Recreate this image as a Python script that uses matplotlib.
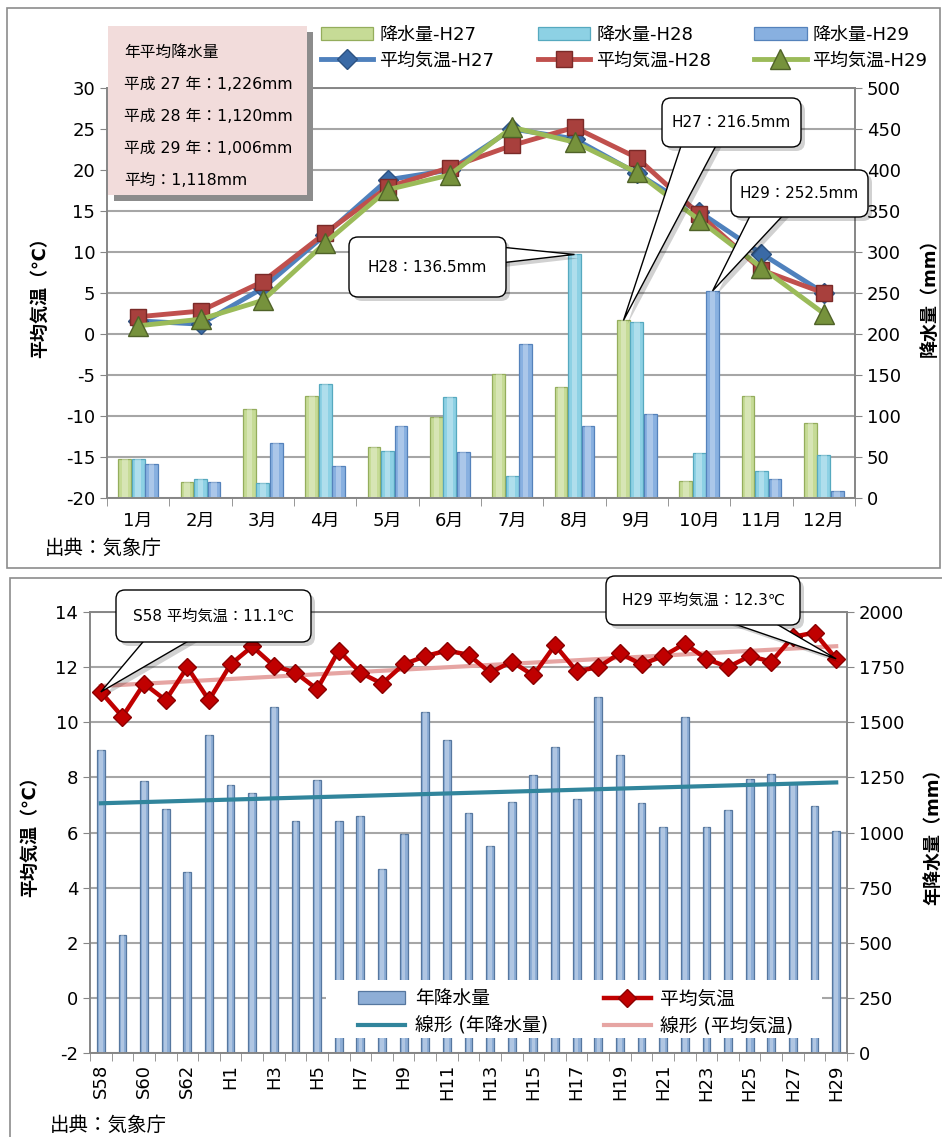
import matplotlib
matplotlib.use("Agg")
import matplotlib.pyplot as plt
import numpy as np
from matplotlib.patches import Rectangle, Polygon, FancyBboxPatch
from matplotlib.transforms import IdentityTransform

plt.rcParams['font.family'] = ['DejaVu Sans', 'Noto Sans CJK JP']
plt.rcParams['axes.unicode_minus'] = False

# ---------------- data: top chart ----------------
months = ['1月', '2月', '3月', '4月', '5月', '6月', '7月', '8月', '9月', '10月', '11月', '12月']
rain_h27 = [47, 19, 109, 124, 62, 99, 151, 135, 216.5, 21, 125, 91]
rain_h28 = [47, 23, 18, 139, 57, 123, 27, 297, 215, 55, 32.5, 53]
rain_h29 = [42, 20, 67, 39, 88, 56, 188, 88, 103, 252.5, 23, 8.5]
temp_h27 = [1.6, 1.2, 5.6, 12.1, 18.8, 20.0, 25.0, 23.8, 19.6, 14.9, 9.8, 5.0]
temp_h28 = [2.1, 2.8, 6.4, 12.3, 17.9, 20.3, 23.0, 25.2, 21.5, 14.6, 7.8, 5.0]
temp_h29 = [1.0, 1.8, 4.1, 11.1, 17.6, 19.4, 25.2, 23.4, 19.7, 13.9, 8.1, 2.5]
top_legend = ['降水量-H27', '降水量-H28', '降水量-H29', '平均気温-H27', '平均気温-H28', '平均気温-H29']
info_lines = ['年平均降水量', '平成 27 年：1,226mm', '平成 28 年：1,120mm', '平成 29 年：1,006mm', '平均：1,118mm']
top_callouts = ['H28：136.5mm', 'H27：216.5mm', 'H29：252.5mm']

# ---------------- data: bottom chart ----------------
years = ['S58', 'S59', 'S60', 'S61', 'S62', 'S63', 'H1', 'H2', 'H3', 'H4', 'H5', 'H6', 'H7', 'H8',
         'H9', 'H10', 'H11', 'H12', 'H13', 'H14', 'H15', 'H16', 'H17', 'H18', 'H19', 'H20', 'H21',
         'H22', 'H23', 'H24', 'H25', 'H26', 'H27', 'H28', 'H29']
annual_rain = [1374, 535, 1235, 1107, 819, 1442, 1215, 1178, 1571, 1054, 1238, 1054, 1076, 834,
               992, 1548, 1420, 1090, 940, 1138, 1261, 1389, 1152, 1613, 1353, 1132, 1026,
               1522, 1026, 1100, 1243, 1264, 1226, 1120, 1006]
annual_temp = [11.1, 10.2, 11.4, 10.8, 12.0, 10.8, 12.1, 12.75, 12.05, 11.8, 11.2, 12.6, 11.8, 11.4,
               12.1, 12.4, 12.6, 12.45, 11.8, 12.2, 11.7, 12.8, 11.85, 12.0, 12.5, 12.1, 12.4,
               12.85, 12.3, 12.0, 12.4, 12.2, 13.1, 13.25, 12.3]
bottom_legend = ['年降水量', '線形 (年降水量)', '平均気温', '線形 (平均気温)']
bottom_callouts = ['S58 平均気温：11.1℃', 'H29 平均気温：12.3℃']
source = '出典：気象庁'

W, H = 942, 1137
fig = plt.figure(figsize=(W / 100, H / 100), dpi=100)
IDT = IdentityTransform()


def fx(x):
    return x / W


def fy(y):
    return 1 - y / H


# frames
fig.patches.append(Rectangle((fx(7), fy(568)), fx(933), (560) / H, transform=fig.transFigure,
                             fill=False, ec='#8c8c8c', lw=1.2, zorder=0))
fig.patches.append(Rectangle((fx(10), fy(1140)), fx(935), (562) / H, transform=fig.transFigure,
                             fill=False, ec='#8c8c8c', lw=1.2, zorder=0))

grid_c = '#a6a6a6'
spine_c = '#868686'


def callout(axis, xy, box, base, text):
    """box = (x0, y0, x1, y1) and base = ((xa, ya), (xb, yb)) in pixels from top-left."""
    tip = axis.transData.transform(xy)
    pts = [(base[0][0], H - base[0][1]), (tip[0], tip[1]), (base[1][0], H - base[1][1])]
    x0, y0, x1, y1 = box
    r = 9
    shadow = FancyBboxPatch((x0 + 4 + r, H - y1 - 4 + r), x1 - x0 - 2 * r, y1 - y0 - 2 * r,
                            boxstyle='round,pad=%d' % r, transform=IDT, fc='#000000', alpha=0.18,
                            ec='none', zorder=10)
    tri_shadow = Polygon([(p[0] + 4, p[1] - 4) for p in pts], closed=True, transform=IDT,
                         fc='#000000', alpha=0.18, ec='none', zorder=10)
    tri = Polygon(pts, closed=True, transform=IDT, fc='white', ec='black', lw=1, zorder=11)
    rect = FancyBboxPatch((x0 + r, H - y1 + r), x1 - x0 - 2 * r, y1 - y0 - 2 * r,
                          boxstyle='round,pad=%d' % r, transform=IDT, fc='white', ec='black',
                          lw=1, zorder=12)
    for p in (shadow, tri_shadow, tri, rect):
        fig.patches.append(p)
    fig.text(fx((x0 + x1) / 2), fy((y0 + y1) / 2), text, ha='center', va='center',
             fontsize=11, zorder=13)


def glossy_bars(axis, xpos, vals, width, face, edge):
    main = axis.bar(xpos, vals, width, color=face, edgecolor=edge, lw=0.9, zorder=2)
    axis.bar(xpos, vals, width * 0.45, color='white', alpha=0.30, lw=0, zorder=2.1)
    return main


# ================= TOP CHART =================
ax = fig.add_axes([fx(107), fy(498), fx(855 - 107), (498 - 88) / H])
ax2 = ax.twinx()
ax.set_zorder(ax2.get_zorder() + 1)
ax.patch.set_visible(False)

x = np.arange(len(months))
bw = 0.205
b1 = glossy_bars(ax2, x - 0.215, rain_h27, bw, '#c6db96', '#94ad5c')
b2 = glossy_bars(ax2, x, rain_h28, bw, '#8dd1e4', '#56a9bf')
b3 = glossy_bars(ax2, x + 0.215, rain_h29, bw, '#88b0e0', '#5582bb')
ax2.set_ylim(0, 500)
ax2.set_yticks(np.arange(0, 501, 50))
ax2.yaxis.grid(True, color=grid_c, lw=1.5, zorder=0)
ax2.set_axisbelow(True)

l1, = ax.plot(x, temp_h27, color='#4f81bd', lw=3.5, marker='D', ms=10, mfc='#3a6aa6', mec='#2c5282', zorder=5)
l2, = ax.plot(x, temp_h28, color='#c0504d', lw=3.5, marker='s', ms=12, mfc='#a8403d', mec='#7a2a28', zorder=6)
l3, = ax.plot(x, temp_h29, color='#9bbb59', lw=3.5, marker='^', ms=14, mfc='#76923c', mec='#4f6228', zorder=7)
ax.set_ylim(-20, 30)
ax.set_yticks(np.arange(-20, 31, 5))
ax.set_xlim(-0.5, len(months) - 0.5)
ax.set_xticks(x)
ax.set_xticklabels(months)
ax.set_xticks(np.arange(-0.5, len(months)), minor=True)
ax.tick_params(axis='x', which='major', length=0, labelsize=13, pad=10)
ax.tick_params(axis='x', which='minor', length=6, color=spine_c)
ax.tick_params(axis='y', labelsize=13, length=5, color=spine_c)
ax2.tick_params(axis='y', labelsize=13, length=5, color=spine_c)
for a in (ax, ax2):
    for s in a.spines.values():
        s.set_color(spine_c)
        s.set_linewidth(1.2)
ax.set_ylabel('平均気温（℃）', fontsize=13, fontweight='bold', labelpad=12)
ax2.set_ylabel('降水量（mm）', fontsize=13, fontweight='bold', labelpad=14)

# callouts (top)
callout(ax2, (7, rain_h28[7]), (349, 237, 506, 297), ((500, 247), (500, 263)), top_callouts[0])
callout(ax2, (8 - 0.215, rain_h27[8]), (662, 98, 801, 147), ((683, 140), (719, 140)), top_callouts[1])
callout(ax2, (9 + 0.215, rain_h29[9]), (731, 170, 868, 217), ((753, 210), (788, 210)), top_callouts[2])

# top legend
fig.legend([b1, l1, b2, l2, b3, l3],
           [top_legend[0], top_legend[3], top_legend[1], top_legend[4], top_legend[2], top_legend[5]],
           ncol=3, loc='upper left', bbox_to_anchor=(fx(312), fy(17)), frameon=False, fontsize=13,
           handlelength=2.9, columnspacing=2.4, labelspacing=0.42, handletextpad=0.33, borderpad=0)

# info box with shadow
fig.patches.append(Rectangle((fx(114), fy(201)), fx(199), 169 / H, transform=fig.transFigure,
                             fc='#8c8c8c', ec='none', zorder=3))
fig.patches.append(Rectangle((fx(108), fy(195)), fx(199), 169 / H, transform=fig.transFigure,
                             fc='#f2dcdb', ec='none', zorder=4))
for i, t in enumerate(info_lines):
    fig.text(fx(124), fy(52 + i * 32), t, fontsize=11.3, va='center', ha='left', zorder=5)

fig.text(fx(45), fy(548), source, fontsize=14, va='center', ha='left')

# ================= BOTTOM CHART =================
bx = fig.add_axes([fx(90), fy(1053), fx(847 - 90), (1053 - 612) / H])
bx2 = bx.twinx()
bx.set_zorder(bx2.get_zorder() + 1)
bx.patch.set_visible(False)

xx = np.arange(len(years))
bars = glossy_bars(bx2, xx, annual_rain, 0.36, '#8eaed6', '#56779f')
bx2.set_ylim(0, 2000)
bx2.set_yticks(np.arange(0, 2001, 250))
bx2.yaxis.grid(True, color=grid_c, lw=1.5, zorder=0)
bx2.set_axisbelow(True)
pr = np.polyfit(xx, annual_rain, 1)
tr1, = bx2.plot(xx, np.polyval(pr, xx), color='#31859c', lw=3, zorder=3)

pt = np.polyfit(xx, annual_temp, 1)
tr2, = bx.plot(xx, np.polyval(pt, xx), color='#e6a5a3', lw=3, zorder=4)
tl, = bx.plot(xx, annual_temp, color='#c00000', lw=3.2, marker='D', ms=9.5, mfc='#c00000',
              mec='#8b0000', zorder=5)
bx.set_ylim(-2, 14)
bx.set_yticks(np.arange(-2, 15, 2))
bx.set_xlim(-0.5, len(years) - 0.5)
bx.set_xticks(xx[::2])
bx.set_xticklabels(years[::2], rotation=90)
bx.set_xticks(np.arange(-0.5, len(years)), minor=True)
bx.tick_params(axis='x', which='major', length=0, labelsize=13, pad=8)
bx.tick_params(axis='x', which='minor', length=6, color=spine_c)
bx.tick_params(axis='y', labelsize=13, length=5, color=spine_c)
bx2.tick_params(axis='y', labelsize=13, length=5, color=spine_c)
for a in (bx, bx2):
    for s in a.spines.values():
        s.set_color(spine_c)
        s.set_linewidth(1.2)
bx.set_ylabel('平均気温（℃）', fontsize=13, fontweight='bold', labelpad=12)
bx2.set_ylabel('年降水量（mm）', fontsize=13, fontweight='bold', labelpad=14)

callout(bx, (0, annual_temp[0]), (116, 590, 311, 642), ((148, 636), (197, 636)), bottom_callouts[0])
callout(bx, (len(years) - 1, annual_temp[-1]), (606, 576, 800, 625), ((720, 619), (768, 619)),
        bottom_callouts[1])

# bottom legend (white panel + legend entries)
fig.patches.append(Rectangle((fx(326), fy(1038)), fx(822 - 326), (1038 - 980) / H,
                             transform=fig.transFigure, fc='white', ec='none', zorder=4))
fig.legend([bars, tr1, tl, tr2], bottom_legend, ncol=2, loc='upper left',
           bbox_to_anchor=(fx(349), fy(980)), frameon=False, fontsize=13.5,
           handlelength=2.5, columnspacing=3.0, labelspacing=0.42, handletextpad=0.5, borderpad=0)

fig.text(fx(50), fy(1125), source, fontsize=14, va='center', ha='left')

fig.savefig('out.png', dpi=100)
